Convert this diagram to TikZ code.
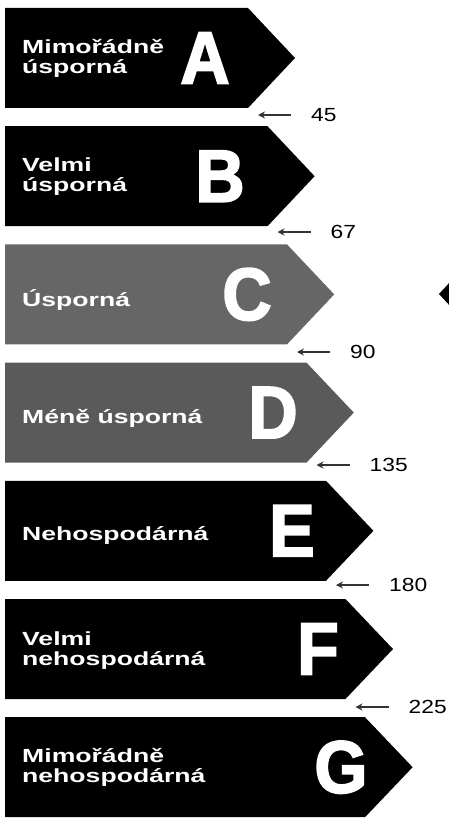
\documentclass[tikz,border=0pt]{standalone}
\usepackage{fontspec}
\setmainfont{Liberation Sans}
\newfontfamily\labfont[FakeStretch=1.4]{Liberation Sans}
\newfontfamily\numfont[FakeStretch=1.2]{Liberation Sans}
\newfontfamily\bigfont[FakeBold=2.5,FakeStretch=0.92]{Liberation Sans}
\usetikzlibrary{arrows.meta}
\definecolor{cgray}{HTML}{666666}
\definecolor{dgray}{HTML}{5a5a5a}
\begin{document}
\begin{tikzpicture}[x=1pt,y=-1pt,
  lab/.style={anchor=west,inner sep=0pt,text=white,align=left,
    font=\labfont\bfseries\fontsize{19}{20}\selectfont},
  bigletter/.style={inner sep=0pt,text=white,font=\bigfont\bfseries\fontsize{74}{74}\selectfont},
  num/.style={anchor=west,inner sep=0pt,font=\numfont\fontsize{19}{19}\selectfont},
  smallarr/.style={line width=1.6pt,black!80,-{Stealth[length=7pt,width=7pt]}}]
\useasboundingbox (0,0) rectangle (449,818);
\foreach \i/\col/\letter/\lx/\txt/\toff in {
  0/black/A/205/{Mimořádně\\úsporná}/0,
  1/black/B/220/{Velmi\\úsporná}/0,
  2/cgray/C/247/{Úsporná}/6,
  3/dgray/D/273/{Méně úsporná}/6,
  4/black/E/292/{Nehospodárná}/5,
  5/black/F/318/{Velmi\\nehospodárná}/2,
  6/black/G/341/{Mimořádně\\nehospodárná}/0}{
  \pgfmathsetmacro{\top}{8+118.2*\i}
  \pgfmathsetmacro{\bot}{\top+100}
  \pgfmathsetmacro{\mid}{\top+50}
  \pgfmathsetmacro{\R}{248+19.5*\i}
  \pgfmathsetmacro{\T}{295+19.6*\i}
  \fill[\col] (5,\top) -- (\R,\top) -- (\T,\mid) -- (\R,\bot) -- (5,\bot) -- cycle;
  \node[lab] (t\i) at (22,\mid+\toff) {\txt};
  \node[bigletter] (L\i) at (\lx,\mid) {\letter};
}
\foreach \i/\y/\v in {0/115/45,1/232/67,2/352/90,3/465/135,4/585/180,5/707/225}{
  \pgfmathsetmacro{\R}{248+19.5*\i}
  \node[num] (n\i) at (\R+63,\y) {\v};
  \coordinate (s\i) at (\R+10,\y);
  \draw[smallarr] ([xshift=-20pt]n\i.west) -- (s\i);
}
\fill (439,294) -- (451,281) -- (451,307) -- cycle;
\end{tikzpicture}
\end{document}
